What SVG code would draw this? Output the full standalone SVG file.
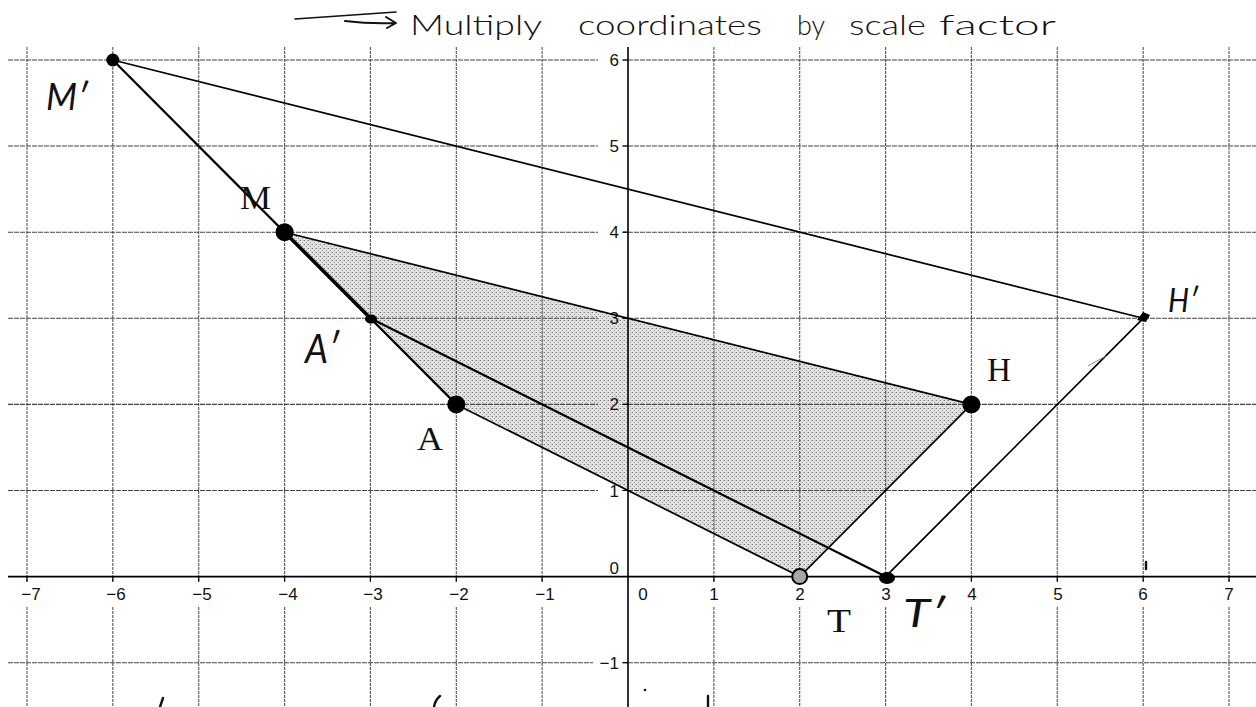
<svg xmlns="http://www.w3.org/2000/svg" width="1256" height="707" viewBox="0 0 1256 707">
<style>
.grid{stroke:#555;stroke-width:1.1;stroke-dasharray:3 1;fill:none}
.gridh{stroke:#444;stroke-width:1.1;stroke-dasharray:5 1;fill:none}
.axis{stroke:#000;stroke-width:1.6;fill:none}
.tick{stroke:#000;stroke-width:1.2}
.num{font-family:"Liberation Sans",Arial,sans-serif;font-size:17px;fill:#111}
.edge{stroke:#000;stroke-width:1.7;fill:none;stroke-linecap:round}
.pt{fill:#000}
.plabel{font-family:"Liberation Serif","Times New Roman",serif;font-size:34px;fill:#111}
.hand{font-family:Lato,"Liberation Sans",Arial,sans-serif;font-weight:400;font-style:italic;fill:#111}
.ink{stroke:#111;stroke-width:2;fill:none;stroke-linecap:round;stroke-linejoin:round}
</style>
<defs>
<pattern id="stip" width="4" height="4" patternUnits="userSpaceOnUse">
<rect width="4" height="4" fill="#e2e2e2"/>
<rect x="0" y="0" width="1" height="1" fill="#7a7a7a"/>
<rect x="2" y="2" width="1" height="1" fill="#9a9a9a"/>
<rect x="3" y="0" width="1" height="1" fill="#bbbbbb"/>
</pattern>
</defs>
<rect width="1256" height="707" fill="#fff"/>

<g id="shaded-region">
<polygon points="284.6,232.2 971.4,404.4 799.7,576.6 456.3,404.4" fill="url(#stip)"/>
</g>

<g id="grid">
<path class="grid" d="M27,47V582M27,607V707M112.8,47V582M112.8,607V707M198.7,47V582M198.7,607V707M284.6,47V582M284.6,607V707M370.4,47V582M370.4,607V707M456.3,47V582M456.3,607V707M542.1,47V582M542.1,607V707M713.9,47V582M713.9,607V707M799.7,47V582M799.7,607V707M885.6,47V582M885.6,607V707M971.4,47V582M971.4,607V707M1057.3,47V582M1057.3,607V707M1143.2,47V582M1143.2,607V707M1229,47V582M1229,607V707"/>
<path class="gridh" d="M8,60H598M622,60H1256M8,146H598M622,146H1256M8,232.2H598M622,232.2H1256M8,318.3H598M622,318.3H1256M8,404.4H598M622,404.4H1256M8,490.5H598M622,490.5H1256M8,662.7H593M622,662.7H1256"/>
</g>

<g id="axes">
<path class="axis" d="M8,576.6H1256M628,47V707"/>
<path class="tick" d="M27,576.6v5M112.8,576.6v5M198.7,576.6v5M284.6,576.6v5M370.4,576.6v5M456.3,576.6v5M542.1,576.6v5M713.9,576.6v5M799.7,576.6v5M885.6,576.6v5M971.4,576.6v5M1057.3,576.6v5M1143.2,576.6v5M1229,576.6v5M623,60h5M623,146h5M623,232.2h5M623,318.3h5M623,404.4h5M623,490.5h5M623,662.7h5"/>
<g class="num" text-anchor="middle">
<text x="31" y="600">−7</text>
<text x="116" y="600">−6</text>
<text x="202" y="600">−5</text>
<text x="288" y="600">−4</text>
<text x="373" y="600">−3</text>
<text x="459" y="600">−2</text>
<text x="545" y="600">−1</text>
<text x="643" y="600">0</text>
<text x="714" y="600">1</text>
<text x="800" y="600">2</text>
<text x="886" y="600">3</text>
<text x="972" y="600">4</text>
<text x="1058" y="600">5</text>
<text x="1143" y="600">6</text>
<text x="1229" y="600">7</text>
</g>
<g class="num" text-anchor="end">
<text x="619" y="66">6</text>
<text x="619" y="152">5</text>
<text x="619" y="238">4</text>
<text x="619" y="324">3</text>
<text x="619" y="410">2</text>
<text x="619" y="497">1</text>
<text x="619" y="574">0</text>
<text x="619" y="669">−1</text>
</g>
</g>

<g id="connectors">
<line class="edge" x1="284.6" y1="232.2" x2="971.4" y2="404.4"/>
<line class="edge" x1="971.4" y1="404.4" x2="799.7" y2="576.6"/>
<line class="edge" x1="799.7" y1="576.6" x2="456.3" y2="404.4"/>
<line class="edge" x1="456.3" y1="404.4" x2="284.6" y2="232.2" style="stroke-width:2.2"/>
<line class="edge" x1="112.8" y1="60" x2="1143.2" y2="318.3"/>
<line class="edge" x1="1143.2" y1="318.3" x2="885.6" y2="576.6"/>
<line class="edge" x1="885.6" y1="576.6" x2="370.4" y2="318.3" style="stroke-width:2.2"/>
<line class="edge" x1="370.4" y1="318.3" x2="112.8" y2="60" style="stroke-width:2.2"/>
<line class="edge" x1="284.6" y1="232.2" x2="370.4" y2="318.3" style="stroke-width:3.6"/>
</g>

<g id="point-M">
<circle class="pt" cx="284.6" cy="232.2" r="9"/>
<text class="plabel" x="240" y="209" textLength="31" lengthAdjust="spacingAndGlyphs">M</text>
</g>
<g id="point-A">
<circle class="pt" cx="456.3" cy="404.4" r="9"/>
<text class="plabel" x="417" y="450" textLength="26" lengthAdjust="spacingAndGlyphs">A</text>
</g>
<g id="point-H">
<circle class="pt" cx="971.4" cy="404.4" r="9"/>
<text class="plabel" x="987" y="381" textLength="24" lengthAdjust="spacingAndGlyphs">H</text>
</g>
<g id="point-T">
<circle cx="799.7" cy="576.6" r="7.5" fill="#a8a8a8" stroke="#000" stroke-width="2"/>
<text class="plabel" x="827" y="632" textLength="24" lengthAdjust="spacingAndGlyphs">T</text>
</g>

<g id="point-M-prime">
<circle class="pt" cx="112.8" cy="60" r="6.5"/>
<text class="hand" x="46" y="110" font-size="36" textLength="42" lengthAdjust="spacingAndGlyphs">M′</text>
</g>
<g id="point-A-prime">
<ellipse class="pt" cx="371" cy="319" rx="6" ry="4.5"/>
<text class="hand" x="305" y="363" font-size="40" textLength="34" lengthAdjust="spacingAndGlyphs">A′</text>
</g>
<g id="point-H-prime">
<path class="pt" d="M1137,320 L1143,312 L1150,315 L1146,322 Z"/>
<text class="hand" x="1168" y="312" font-size="32" textLength="30" lengthAdjust="spacingAndGlyphs">H′</text>
</g>
<g id="point-T-prime">
<ellipse class="pt" cx="887" cy="578" rx="8" ry="6"/>
<text class="hand" x="903" y="627" font-size="38" textLength="42" lengthAdjust="spacingAndGlyphs">T′</text>
</g>

<g id="annotation">
<path class="ink" d="M295,19 L396,12" style="stroke-width:1.6"/>
<path class="ink" d="M345,21 Q370,24 395,23 M386,17 L396,23 L387,28"/>
<g class="hand" font-size="27" style="font-style:normal;font-weight:300">
<text x="410" y="35" textLength="132" lengthAdjust="spacingAndGlyphs">Multiply</text>
<text x="578" y="35" textLength="184" lengthAdjust="spacingAndGlyphs">coordinates</text>
<text x="797" y="35" textLength="28" lengthAdjust="spacingAndGlyphs">by</text>
<text x="849" y="35" textLength="77" lengthAdjust="spacingAndGlyphs">scale</text>
<text x="939" y="35" textLength="117" lengthAdjust="spacingAndGlyphs">factor</text>
</g>
<path class="ink" d="M163,698 L160,707 M440,696 Q435,700 434,707 M708,696 L708,707 M1146,562 L1146,569" style="stroke-width:2.4"/>
<circle cx="645" cy="690" r="1.3" fill="#111"/>
<path d="M1088,366 L1106,356" stroke="#888" stroke-width="1" fill="none"/>
</g>
</svg>
